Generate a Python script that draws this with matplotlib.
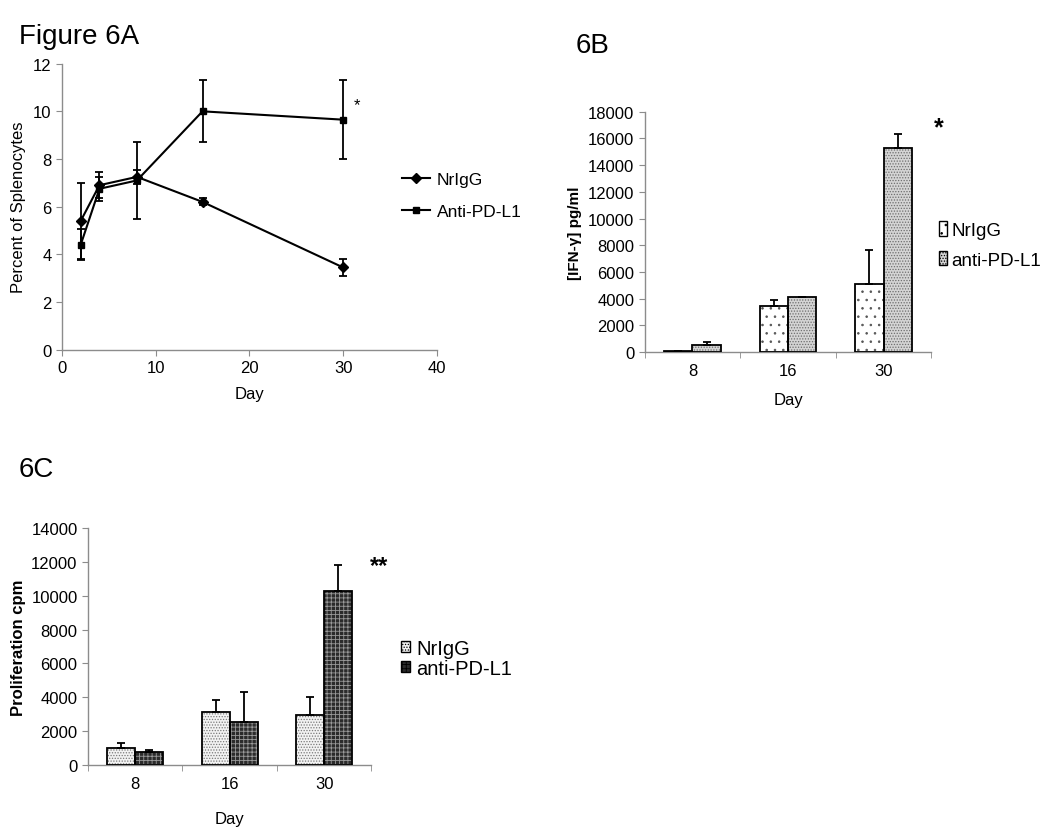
import numpy as np
import matplotlib
matplotlib.use("Agg")
import matplotlib.pyplot as plt
from matplotlib.lines import Line2D
from matplotlib.patches import Patch

plt.rcParams.update({
    "font.family": "sans-serif",
    "font.sans-serif": ["Liberation Sans", "DejaVu Sans"],
    "hatch.linewidth": 0.6,
})

# Panel A: percent of splenocytes over time
DAYS_A = [2, 4, 8, 15, 30]
NRIGG_A = [5.4, 6.9, 7.25, 6.2, 3.45]
NRIGG_A_ERR = [1.6, 0.55, 0.3, 0.15, 0.35]
PDL1_A = [4.4, 6.75, 7.1, 10.0, 9.65]
PDL1_A_ERR = [0.65, 0.5, 1.6, 1.3, 1.65]

# Panel B: IFN-gamma
DAY_CATS = ["8", "16", "30"]
NRIGG_B = [50, 3450, 5100]
NRIGG_B_ERR = [50, 450, 2550]
PDL1_B = [550, 4100, 15300]
PDL1_B_ERR = [200, 60, 1000]

# Panel C: proliferation
NRIGG_C = [1000, 3150, 2950]
NRIGG_C_ERR = [300, 700, 1050]
PDL1_C = [750, 2550, 10300]
PDL1_C_ERR = [150, 1750, 1500]

fig = plt.figure(figsize=(10.5, 8.29), dpi=100)
SPINE = "#8c8c8c"


def style_axes(ax, size):
    for s in ["top", "right"]:
        ax.spines[s].set_visible(False)
    for s in ["left", "bottom"]:
        ax.spines[s].set_color(SPINE)
        ax.spines[s].set_linewidth(1.0)
    ax.tick_params(axis="both", which="both", direction="out", color=SPINE,
                   length=4, labelsize=size)


# ---------------- 6A ----------------
axA = fig.add_axes([0.059, 0.577, 0.357, 0.345])
err_kw = dict(ecolor="black", elinewidth=1.3, capsize=3, capthick=1.3)
axA.errorbar(DAYS_A, NRIGG_A, yerr=NRIGG_A_ERR, color="black", lw=1.5,
             marker="D", ms=5, **err_kw)
axA.errorbar(DAYS_A, PDL1_A, yerr=PDL1_A_ERR, color="black", lw=1.5,
             marker="s", ms=5, **err_kw)
axA.set_xlim(0, 40)
axA.set_ylim(0, 12)
axA.set_xticks([0, 10, 20, 30, 40])
axA.set_yticks(range(0, 13, 2))
style_axes(axA, 12)
axA.set_xlabel("Day", fontsize=12, labelpad=8)
axA.set_ylabel("Percent of Splenocytes", fontsize=12, labelpad=5)
axA.text(31.5, 10.3, "*", fontsize=12, ha="center", va="center")
handlesA = [Line2D([], [], color="black", marker="D", ms=5, lw=1.5),
            Line2D([], [], color="black", marker="s", ms=5, lw=1.5)]
fig.legend(handlesA, ["NrIgG", "Anti-PD-L1"], loc="upper left",
           bbox_to_anchor=(0.368, 0.81), frameon=False, fontsize=12.5,
           handlelength=1.6, handletextpad=0.4, labelspacing=0.95)
fig.text(0.018, 0.955, "Figure 6A", fontsize=20, va="center")


def bars(ax, nr, nr_err, pd, pd_err, nr_style, pd_style):
    x = np.arange(len(DAY_CATS))
    w = 0.295
    for vals, errs, off, st in [(nr, nr_err, -w / 2, nr_style),
                                (pd, pd_err, w / 2, pd_style)]:
        ax.bar(x + off, vals, w, color=st["face"], edgecolor=st["hc"],
               hatch=st["hatch"], linewidth=0, zorder=2)
        ax.bar(x + off, vals, w, fill=False, edgecolor="black",
               linewidth=1.3, zorder=3)
        ax.errorbar(x + off, vals, yerr=[np.zeros(len(vals)), errs], fmt="none",
                    ecolor="black", elinewidth=1.3, capsize=3, capthick=1.3,
                    zorder=4)
    ax.set_xlim(-0.5, 2.5)
    ax.set_xticks(x)
    ax.set_xticklabels(DAY_CATS)
    ax.set_xticks([-0.5, 0.5, 1.5, 2.5], minor=True)
    style_axes(ax, 12)
    ax.tick_params(axis="x", which="major", length=0, pad=8)


# ---------------- 6B ----------------
axB = fig.add_axes([0.614, 0.574, 0.273, 0.290])
nrB = dict(face="white", hc="#555555", hatch="..")
pdB = dict(face="#d4d4d4", hc="#6e6e6e", hatch="......")
bars(axB, NRIGG_B, NRIGG_B_ERR, PDL1_B, PDL1_B_ERR, nrB, pdB)
axB.set_ylim(0, 18000)
axB.set_yticks(range(0, 18001, 2000))
axB.set_xlabel("Day", fontsize=12, labelpad=10)
axB.set_ylabel("[IFN-γ] pg/ml", fontsize=11, fontweight="bold", labelpad=4)
axB.text(2.58, 16800, "*", fontsize=18, fontweight="bold", ha="center", va="center")
handlesB = [Patch(facecolor="white", edgecolor="black", hatch="..", lw=1),
            Patch(facecolor="#d4d4d4", edgecolor="black", hatch="......", lw=1)]
fig.legend(handlesB, ["NrIgG", "anti-PD-L1"], loc="upper left",
           bbox_to_anchor=(0.88, 0.75), frameon=False, fontsize=13.5,
           handlelength=0.4, handleheight=0.8, handletextpad=0.25,
           labelspacing=0.65, borderpad=0.3)
fig.text(0.548, 0.945, "6B", fontsize=20, va="center")

# ---------------- 6C ----------------
axC = fig.add_axes([0.0838, 0.076, 0.270, 0.286])
nrC = dict(face="#f2f2f2", hc="#7a7a7a", hatch="......")
pdC = dict(face="#2b2b2b", hc="#9a9a9a", hatch="++++")
bars(axC, NRIGG_C, NRIGG_C_ERR, PDL1_C, PDL1_C_ERR, nrC, pdC)
axC.set_ylim(0, 14000)
axC.set_yticks(range(0, 14001, 2000))
axC.set_xlabel("Day", fontsize=12, labelpad=14)
axC.set_ylabel("Proliferation cpm", fontsize=12, fontweight="bold", labelpad=4)
axC.text(2.58, 11800, "**", fontsize=17, fontweight="bold", ha="center", va="center")
handlesC = [Patch(facecolor="#f2f2f2", edgecolor="black", hatch="......", lw=1),
            Patch(facecolor="#2b2b2b", edgecolor="black", hatch="++++", lw=1)]
fig.legend(handlesC, ["NrIgG", "anti-PD-L1"], loc="upper left",
           bbox_to_anchor=(0.365, 0.25), frameon=False, fontsize=14.5,
           handlelength=0.45, handleheight=0.45, handletextpad=0.3,
           labelspacing=0.05)
fig.text(0.018, 0.433, "6C", fontsize=20, va="center")

fig.savefig("out.png", dpi=100)
